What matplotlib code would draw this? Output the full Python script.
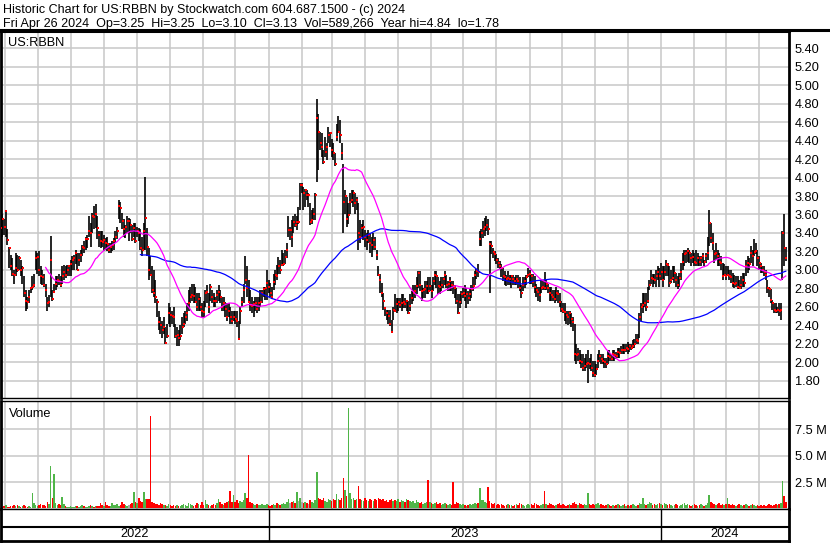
import matplotlib
matplotlib.use('Agg')
import matplotlib.pyplot as plt
import matplotlib.dates as mdates
from matplotlib.lines import Line2D
import numpy as np
import pandas as pd

plt.rcParams['font.family'] = ['Liberation Sans', 'DejaVu Sans']

# daily bars, US:RBBN, 2022-04-27 .. 2024-04-26
high = [
    3.56, 3.60, 3.55, 3.65, 3.44, 3.25, 3.16, 3.13, 3.00, 3.18,
    3.16, 3.15, 3.11, 3.04, 2.93, 2.78, 2.71, 2.78, 2.82, 2.93,
    2.96, 3.20, 3.18, 3.20, 3.04, 3.00, 2.96, 2.85, 2.71, 2.73,
    3.37, 2.78, 2.85, 2.93, 2.93, 2.96, 2.93, 3.04, 3.05, 3.04,
    3.05, 3.05, 3.11, 3.15, 3.16, 3.22, 3.18, 3.18, 3.22, 3.27,
    3.31, 3.36, 3.38, 3.58, 3.51, 3.62, 3.69, 3.71, 3.58, 3.42,
    3.42, 3.42, 3.38, 3.35, 3.36, 3.29, 3.29, 3.31, 3.35, 3.42,
    3.47, 3.76, 3.73, 3.62, 3.55, 3.49, 3.58,
    # 2022 autumn
    3.56, 3.55, 3.49, 3.51, 3.51, 3.47, 3.45, 3.44, 3.36, 3.51,
    4.01, 3.45, 3.24, 3.15, 3.04, 3.00, 2.89, 2.69, 2.56, 2.49,
    2.45, 2.49, 2.38, 2.42, 2.64, 2.60, 2.56, 2.60, 2.42, 2.38,
    2.35, 2.40, 2.49, 2.53, 2.56, 2.64, 2.78, 2.82, 2.85, 2.85,
    2.82, 2.75, 2.75, 2.71, 2.64, 2.67, 2.78, 2.84, 2.75, 2.85,
    2.78, 2.75, 2.71, 2.78, 2.84, 2.78, 2.71, 2.71, 2.65, 2.64,
    2.64, 2.60, 2.56, 2.56, 2.56, 2.56, 2.45, 2.60, 2.71, 2.85,
    3.15, 3.04, 2.89, 2.78, 2.71, 2.67, 2.71, 2.71, 2.71, 2.78,
    2.78, 2.82,
    # 2023 first half
    2.82, 3.00, 2.89, 2.86, 2.82, 2.96, 3.00, 3.05, 3.14, 3.11,
    3.22, 3.18, 3.22, 3.29, 3.58, 3.47, 3.54, 3.58, 3.61, 3.58,
    3.68, 3.94, 3.94, 3.90, 3.88, 3.86, 3.83, 3.72, 3.65, 3.67,
    3.83, 4.85, 4.69, 4.49, 4.48, 4.30, 4.44, 4.37, 4.55, 4.49,
    4.42, 4.37, 4.26, 4.58, 4.66, 4.62, 4.37, 4.15, 3.86, 3.79,
    3.72, 3.83, 3.86, 3.86, 3.83, 3.79, 3.72, 3.54, 3.50, 3.54,
    3.43, 3.40, 3.43, 3.40, 3.36, 3.40, 3.36, 3.22, 3.04, 2.96,
    2.86, 2.75, 2.60, 2.57, 2.57, 2.57, 2.46, 2.60,
    # 2023 summer
    2.74, 2.70, 2.70, 2.70, 2.74, 2.74, 2.70, 2.66, 2.66, 2.74,
    2.77, 2.84, 2.84, 2.92, 2.99, 2.99, 2.84, 2.81, 2.88, 2.88,
    2.92, 2.92, 2.84, 2.92, 2.99, 2.99, 2.92, 2.88, 2.92, 2.92,
    2.99, 2.95, 2.88, 2.92, 2.88, 2.88, 2.84, 2.81, 2.74, 2.74,
    2.77, 2.81, 2.84, 2.81, 2.77, 2.81, 2.84, 2.92, 2.99, 3.01,
    3.06, 3.42, 3.44, 3.53, 3.56, 3.58, 3.55, 3.31, 3.31, 3.24,
    3.20, 3.17, 3.13, 3.10, 3.06, 3.02, 2.99, 2.95, 2.99, 2.95,
    2.95, 2.95, 2.92, 2.95, 2.95, 2.92, 2.84, 2.92, 2.92, 2.95,
    3.02,
    # 2023 autumn
    3.00, 2.96, 2.96, 2.93, 2.85, 2.82, 2.82, 2.89, 2.89, 2.98,
    2.89, 2.85, 2.82, 2.82, 2.78, 2.78, 2.82, 2.78, 2.75, 2.67,
    2.64, 2.64, 2.56, 2.56, 2.56, 2.53, 2.49, 2.42, 2.20, 2.16,
    2.13, 2.09, 2.09, 2.05, 2.09, 2.13, 2.05, 2.09, 2.02, 2.02,
    1.98, 2.09, 2.14, 2.09, 2.09, 2.05, 2.05, 2.13, 2.13, 2.09,
    2.13, 2.13, 2.11, 2.16, 2.16, 2.18, 2.20, 2.20, 2.20, 2.22,
    2.20, 2.20, 2.24, 2.25, 2.31, 2.31, 2.53, 2.64, 2.75, 2.75,
    2.75, 2.82, 2.89, 3.00, 2.96, 2.96, 3.00, 3.04, 3.02,
    # 2024
    3.08, 3.04, 3.04, 3.11, 3.08, 3.04, 3.00, 3.04, 3.04, 2.97,
    2.93, 2.97, 3.08, 3.18, 3.22, 3.22, 3.24, 3.22, 3.18, 3.22,
    3.18, 3.22, 3.18, 3.15, 3.15, 3.18, 3.11, 3.18, 3.36, 3.65,
    3.51, 3.40, 3.22, 3.29, 3.22, 3.18, 3.15, 3.08, 3.06, 3.04,
    3.04, 3.00, 3.00, 2.97, 2.95, 2.93, 2.93, 2.89, 2.93, 2.97,
    2.97, 3.11, 3.15, 3.13, 3.26, 3.22, 3.33, 3.29, 3.22, 3.15,
    3.08, 3.04, 3.04, 3.00, 2.89, 2.82, 2.79, 2.68, 2.64, 2.64,
    2.60, 2.64, 2.64, 3.42, 3.60, 3.25,
]

low = [
    3.38, 3.36, 3.38, 3.36, 3.27, 3.02, 3.00, 2.93, 2.85, 2.93,
    2.98, 3.00, 2.93, 2.85, 2.71, 2.56, 2.58, 2.64, 2.75, 2.78,
    2.82, 3.00, 2.96, 2.93, 2.85, 2.84, 2.82, 2.71, 2.56, 2.60,
    2.71, 2.67, 2.75, 2.78, 2.82, 2.84, 2.82, 2.85, 2.89, 2.91,
    2.93, 2.93, 2.93, 3.00, 3.00, 3.07, 3.00, 3.04, 3.09, 3.15,
    3.18, 3.22, 3.24, 3.36, 3.25, 3.40, 3.44, 3.45, 3.33, 3.25,
    3.24, 3.25, 3.20, 3.22, 3.20, 3.18, 3.18, 3.20, 3.22, 3.29,
    3.33, 3.55, 3.51, 3.44, 3.36, 3.35, 3.40,
    # 2022 autumn
    3.31, 3.40, 3.31, 3.36, 3.29, 3.36, 3.31, 3.22, 3.15, 3.22,
    3.22, 3.15, 2.89, 2.93, 2.75, 2.71, 2.64, 2.49, 2.35, 2.31,
    2.27, 2.31, 2.20, 2.27, 2.42, 2.38, 2.42, 2.38, 2.27, 2.18,
    2.18, 2.24, 2.31, 2.38, 2.42, 2.45, 2.56, 2.64, 2.67, 2.64,
    2.64, 2.56, 2.56, 2.56, 2.49, 2.49, 2.60, 2.64, 2.53, 2.67,
    2.64, 2.60, 2.60, 2.64, 2.67, 2.64, 2.56, 2.56, 2.49, 2.45,
    2.49, 2.42, 2.42, 2.45, 2.42, 2.38, 2.24, 2.42, 2.60, 2.64,
    2.85, 2.71, 2.64, 2.56, 2.53, 2.49, 2.56, 2.53, 2.56, 2.60,
    2.64, 2.71,
    # 2023 first half
    2.68, 2.68, 2.75, 2.71, 2.69, 2.78, 2.84, 2.89, 2.96, 2.96,
    3.04, 3.04, 3.07, 3.13, 3.36, 3.32, 3.25, 3.40, 3.47, 3.43,
    3.50, 3.65, 3.83, 3.65, 3.68, 3.76, 3.68, 3.49, 3.50, 3.54,
    3.54, 3.95, 4.08, 4.30, 4.22, 4.15, 4.22, 4.19, 4.37, 4.33,
    4.22, 4.19, 4.12, 4.40, 4.48, 4.37, 4.19, 3.40, 3.61, 3.47,
    3.50, 3.61, 3.72, 3.68, 3.61, 3.65, 3.22, 3.29, 3.36, 3.32,
    3.25, 3.22, 3.29, 3.18, 3.14, 3.22, 3.22, 3.11, 2.93, 2.75,
    2.71, 2.57, 2.50, 2.46, 2.42, 2.39, 2.32, 2.46,
    # 2023 summer
    2.56, 2.54, 2.56, 2.59, 2.56, 2.59, 2.59, 2.56, 2.52, 2.56,
    2.63, 2.66, 2.70, 2.74, 2.81, 2.77, 2.66, 2.70, 2.70, 2.74,
    2.74, 2.77, 2.70, 2.77, 2.84, 2.81, 2.74, 2.74, 2.77, 2.81,
    2.84, 2.81, 2.77, 2.77, 2.77, 2.74, 2.70, 2.63, 2.52, 2.59,
    2.63, 2.70, 2.66, 2.59, 2.63, 2.66, 2.70, 2.77, 2.84, 2.90,
    2.92, 3.26, 3.26, 3.35, 3.37, 3.42, 3.38, 2.75, 3.17, 3.13,
    3.10, 3.06, 3.02, 3.01, 2.92, 2.88, 2.84, 2.83, 2.84, 2.84,
    2.81, 2.84, 2.84, 2.84, 2.81, 2.77, 2.70, 2.77, 2.81, 2.84,
    2.92,
    # 2023 autumn
    2.85, 2.85, 2.82, 2.75, 2.71, 2.67, 2.65, 2.75, 2.78, 2.78,
    2.78, 2.75, 2.67, 2.67, 2.67, 2.64, 2.67, 2.64, 2.60, 2.55,
    2.53, 2.45, 2.42, 2.40, 2.42, 2.38, 2.34, 2.02, 1.98, 2.02,
    1.98, 1.94, 1.91, 1.91, 1.94, 1.78, 1.93, 1.91, 1.84, 1.84,
    1.87, 1.94, 2.00, 1.98, 1.98, 1.94, 1.94, 1.98, 2.02, 2.02,
    2.02, 2.02, 2.04, 2.05, 2.05, 2.09, 2.09, 2.09, 2.11, 2.09,
    2.11, 2.13, 2.16, 2.16, 2.20, 2.20, 2.27, 2.45, 2.53, 2.60,
    2.56, 2.64, 2.78, 2.85, 2.82, 2.85, 2.82, 2.89, 2.82,
    # 2024
    2.89, 2.82, 2.89, 2.93, 2.93, 2.82, 2.86, 2.89, 2.86, 2.82,
    2.79, 2.82, 2.89, 3.00, 3.04, 3.08, 3.09, 3.08, 3.04, 3.08,
    3.04, 3.04, 3.04, 3.04, 3.04, 3.08, 3.04, 3.08, 3.11, 3.26,
    3.29, 3.22, 3.08, 3.11, 3.04, 3.04, 3.00, 2.89, 2.93, 2.89,
    2.93, 2.89, 2.86, 2.82, 2.80, 2.82, 2.79, 2.79, 2.79, 2.82,
    2.82, 2.93, 2.97, 3.00, 3.08, 3.04, 3.15, 3.17, 3.04, 3.00,
    2.97, 2.97, 2.93, 2.89, 2.75, 2.71, 2.64, 2.57, 2.53, 2.53,
    2.53, 2.50, 2.46, 2.89, 3.04, 3.10,
]

close = [
    3.45, 3.55, 3.47, 3.64, 3.32, 3.24, 3.04, 2.96, 2.95, 3.02,
    3.00, 3.13, 3.00, 3.02, 2.75, 2.67, 2.65, 2.71, 2.80, 2.82,
    2.84, 3.13, 3.14, 3.00, 2.93, 2.92, 2.84, 2.78, 2.64, 2.65,
    3.11, 2.69, 2.76, 2.85, 2.89, 2.88, 2.84, 2.93, 2.98, 2.95,
    3.00, 3.04, 3.07, 3.11, 3.13, 3.18, 3.00, 3.11, 3.16, 3.25,
    3.24, 3.33, 3.34, 3.42, 3.40, 3.58, 3.57, 3.60, 3.45, 3.38,
    3.31, 3.30, 3.32, 3.29, 3.28, 3.22, 3.25, 3.27, 3.31, 3.36,
    3.42, 3.69, 3.67, 3.53, 3.44, 3.47, 3.53,
    # 2022 autumn
    3.53, 3.49, 3.33, 3.45, 3.31, 3.42, 3.40, 3.24, 3.22, 3.42,
    3.56, 3.25, 3.00, 2.95, 2.78, 2.75, 2.71, 2.65, 2.44, 2.40,
    2.35, 2.38, 2.21, 2.29, 2.53, 2.51, 2.50, 2.49, 2.29, 2.30,
    2.27, 2.29, 2.38, 2.42, 2.49, 2.53, 2.64, 2.71, 2.73, 2.72,
    2.65, 2.60, 2.69, 2.60, 2.56, 2.55, 2.75, 2.76, 2.60, 2.82,
    2.71, 2.67, 2.66, 2.73, 2.76, 2.71, 2.60, 2.64, 2.58, 2.49,
    2.56, 2.49, 2.45, 2.49, 2.47, 2.45, 2.25, 2.56, 2.65, 2.78,
    2.89, 2.80, 2.65, 2.62, 2.61, 2.63, 2.64, 2.58, 2.64, 2.65,
    2.75, 2.79,
    # 2023 first half
    2.80, 2.86, 2.82, 2.75, 2.71, 2.87, 2.95, 2.93, 3.04, 3.00,
    3.05, 3.07, 3.14, 3.22, 3.43, 3.43, 3.36, 3.52, 3.49, 3.52,
    3.52, 3.92, 3.92, 3.83, 3.86, 3.81, 3.81, 3.52, 3.54, 3.61,
    3.81, 4.64, 4.49, 4.37, 4.33, 4.17, 4.28, 4.33, 4.46, 4.48,
    4.30, 4.26, 4.15, 4.44, 4.49, 4.46, 4.26, 3.74, 3.80, 3.55,
    3.59, 3.74, 3.76, 3.83, 3.72, 3.76, 3.40, 3.36, 3.45, 3.47,
    3.36, 3.32, 3.38, 3.29, 3.27, 3.32, 3.25, 3.16, 2.95, 2.89,
    2.75, 2.66, 2.59, 2.53, 2.50, 2.42, 2.33, 2.57,
    # 2023 summer
    2.56, 2.63, 2.65, 2.62, 2.64, 2.65, 2.63, 2.66, 2.54, 2.61,
    2.70, 2.75, 2.77, 2.83, 2.97, 2.84, 2.77, 2.78, 2.79, 2.83,
    2.77, 2.83, 2.77, 2.88, 2.95, 2.93, 2.83, 2.82, 2.84, 2.90,
    2.95, 2.84, 2.85, 2.88, 2.84, 2.83, 2.81, 2.66, 2.54, 2.65,
    2.74, 2.75, 2.72, 2.74, 2.70, 2.74, 2.79, 2.83, 2.95, 2.99,
    2.98, 3.33, 3.40, 3.44, 3.46, 3.49, 3.44, 3.28, 3.26, 3.19,
    3.17, 3.11, 3.08, 3.04, 3.02, 2.93, 2.92, 2.90, 2.91, 2.90,
    2.93, 2.90, 2.88, 2.90, 2.88, 2.81, 2.75, 2.84, 2.88, 2.92,
    2.95,
    # 2023 autumn
    2.96, 2.93, 2.87, 2.82, 2.78, 2.76, 2.73, 2.80, 2.82, 2.80,
    2.85, 2.80, 2.75, 2.73, 2.71, 2.69, 2.75, 2.74, 2.65, 2.58,
    2.56, 2.55, 2.51, 2.49, 2.53, 2.47, 2.44, 2.09, 2.08, 2.09,
    2.02, 2.01, 1.94, 1.96, 1.98, 1.99, 1.98, 1.94, 1.89, 1.87,
    1.93, 2.02, 2.07, 2.04, 2.02, 2.00, 1.98, 2.07, 2.06, 2.04,
    2.09, 2.08, 2.07, 2.11, 2.10, 2.13, 2.14, 2.13, 2.16, 2.15,
    2.18, 2.16, 2.18, 2.20, 2.24, 2.23, 2.49, 2.60, 2.62, 2.64,
    2.60, 2.67, 2.84, 2.91, 2.90, 2.89, 2.93, 2.98, 2.93,
    # 2024
    2.98, 2.89, 2.98, 3.06, 3.05, 2.86, 2.89, 2.91, 2.97, 2.89,
    2.84, 2.91, 2.98, 3.09, 3.17, 3.18, 3.20, 3.18, 3.13, 3.14,
    3.09, 3.08, 3.13, 3.09, 3.13, 3.15, 3.09, 3.15, 3.18, 3.51,
    3.35, 3.29, 3.17, 3.18, 3.15, 3.09, 3.08, 2.93, 2.95, 2.94,
    2.95, 2.93, 2.92, 2.86, 2.85, 2.86, 2.82, 2.80, 2.84, 2.89,
    2.86, 3.04, 3.08, 3.06, 3.18, 3.15, 3.19, 3.20, 3.13, 3.08,
    3.04, 3.00, 2.98, 2.95, 2.80, 2.79, 2.68, 2.64, 2.57, 2.56,
    2.57, 2.56, 2.57, 3.40, 3.24, 3.13,
]

# volume in millions of shares
volume = [
    0.15, 0.10, 0.20, 0.30, 0.15, 0.10, 0.25, 0.20, 0.30, 0.20,
    0.35, 0.20, 0.15, 0.25, 0.30, 0.20, 0.10, 0.20, 0.15, 1.45,
    0.50, 0.30, 0.20, 0.30, 0.40, 0.30, 0.30, 0.20, 0.60, 0.40,
    4.00, 1.00, 3.30, 0.50, 0.30, 0.40, 0.30, 1.10, 0.40, 0.20,
    0.15, 0.10, 0.20, 0.15, 0.10, 0.20, 0.25, 0.15, 0.20, 0.30,
    0.20, 0.15, 0.10, 0.20, 0.30, 0.20, 0.15, 0.25, 0.20, 0.20,
    0.50, 0.30, 0.20, 0.60, 0.30, 0.25, 0.20, 0.50, 0.30, 0.35,
    0.40, 0.20, 0.30, 0.60, 0.40, 0.30, 0.20,
    # 2022 autumn
    0.30, 0.40, 0.50, 1.60, 0.60, 0.50, 1.00, 0.70, 0.60, 1.60,
    0.90, 0.90, 0.90, 8.75, 0.60, 0.50, 0.40, 0.40, 0.30, 0.50,
    0.40, 0.30, 0.30, 0.20, 0.40, 0.30, 0.20, 0.30, 0.20, 0.30,
    0.20, 0.20, 0.30, 0.40, 0.30, 0.20, 0.50, 0.40, 0.30, 0.20,
    0.30, 0.50, 0.40, 0.30, 0.60, 0.30, 0.80, 0.40, 0.30, 0.20,
    0.30, 0.40, 0.30, 0.50, 0.90, 0.60, 0.40, 0.30, 0.50, 0.60,
    0.70, 1.70, 0.60, 1.30, 0.60, 0.80, 0.50, 0.70, 0.60, 0.80,
    1.50, 1.00, 5.10, 0.60, 0.50, 0.40, 0.30, 0.40, 0.30, 0.30,
    0.40, 0.30,
    # 2023 first half
    0.30, 0.40, 0.30, 0.20, 0.30, 0.40, 0.30, 0.50, 0.40, 0.30,
    0.40, 0.50, 0.40, 0.60, 0.90, 0.50, 0.60, 0.70, 0.50, 1.60,
    0.70, 1.00, 0.60, 0.50, 0.60, 0.50, 0.40, 0.80, 0.60, 0.50,
    0.80, 3.50, 1.00, 0.90, 0.80, 1.00, 0.70, 0.60, 0.90, 0.80,
    0.70, 0.90, 0.80, 1.40, 0.90, 0.80, 1.00, 2.90, 1.80, 1.20,
    9.50, 1.50, 0.90, 1.00, 0.80, 0.90, 2.10, 0.90, 0.80, 0.70,
    1.00, 0.80, 0.70, 0.90, 0.80, 0.70, 0.90, 0.80, 1.00, 0.90,
    0.80, 0.90, 0.70, 0.80, 0.60, 0.80, 0.90, 0.70,
    # 2023 summer
    0.80, 0.70, 0.90, 0.60, 0.80, 0.70, 0.60, 0.90, 0.80, 0.70,
    0.60, 0.70, 0.50, 0.80, 0.60, 0.50, 0.60, 0.40, 0.50, 0.60,
    2.70, 0.60, 0.50, 0.40, 0.50, 0.60, 0.40, 0.50, 0.30, 0.40,
    0.50, 0.40, 0.30, 0.40, 0.30, 2.50, 0.40, 0.60, 0.50, 0.40,
    0.30, 0.40, 0.30, 0.20, 0.30, 0.40, 0.30, 0.40, 0.50, 0.40,
    0.50, 1.90, 0.80, 0.80, 0.60, 0.50, 2.00, 0.70, 0.50, 0.40,
    0.50, 0.30, 0.40, 0.30, 0.40, 0.30, 0.20, 0.30, 0.40, 0.30,
    0.30, 0.20, 0.30, 0.40, 0.30, 0.50, 0.40, 0.30, 0.20, 0.30,
    0.40,
    # 2023 autumn
    0.30, 0.40, 0.30, 0.50, 0.40, 0.30, 0.20, 0.30, 0.40, 1.70,
    0.40, 0.30, 0.50, 0.40, 0.30, 0.20, 0.30, 0.40, 0.50, 0.30,
    0.40, 0.30, 0.20, 0.30, 0.40, 0.30, 0.50, 0.60, 0.40, 0.30,
    0.50, 0.40, 0.30, 0.40, 0.30, 1.50, 0.40, 0.30, 0.40, 0.30,
    0.40, 0.50, 0.30, 0.40, 0.30, 0.20, 0.30, 0.40, 0.30, 0.20,
    0.30, 0.20, 0.30, 0.40, 0.30, 0.20, 0.30, 0.40, 0.20, 0.30,
    0.20, 0.30, 0.40, 0.30, 0.20, 0.30, 0.50, 0.40, 1.00, 0.40,
    0.30, 0.40, 0.60, 0.50, 0.30, 0.40, 0.30, 0.40, 0.50,
    # 2024
    0.40, 0.30, 0.50, 0.40, 0.30, 0.40, 0.30, 0.20, 0.30, 0.40,
    0.30, 0.20, 0.30, 0.40, 0.50, 0.30, 0.40, 0.30, 0.20, 0.30,
    0.40, 0.30, 0.20, 0.30, 0.40, 0.30, 0.20, 0.30, 0.50, 1.30,
    0.60, 0.50, 0.40, 0.30, 0.40, 0.50, 0.30, 0.40, 0.30, 0.40,
    1.00, 0.40, 0.30, 0.40, 0.30, 0.20, 0.30, 0.40, 0.30, 0.20,
    0.30, 0.40, 0.30, 0.20, 0.30, 0.40, 0.30, 0.20, 0.30, 0.20,
    0.30, 0.20, 0.30, 0.20, 0.30, 0.40, 0.30, 0.20, 0.30, 0.40,
    0.30, 0.40, 0.50, 2.60, 1.20, 0.59,
]

price_ticks = [1.80, 2.00, 2.20, 2.40, 2.60, 2.80, 3.00, 3.20, 3.40, 3.60,
               3.80, 4.00, 4.20, 4.40, 4.60, 4.80, 5.00, 5.20, 5.40]
vol_ticks = [2.5, 5.0, 7.5]
years = [2022, 2023, 2024]

header1 = 'Historic Chart for US:RBBN by Stockwatch.com 604.687.1500 - (c) 2024'
header2 = ('Fri Apr 26 2024  Op=3.25  Hi=3.25  Lo=3.10  Cl=3.13  '
           'Vol=589,266  Year hi=4.84  lo=1.78')

GREEN = '#4fb548'
RED = '#ff0000'
GREY = '#a8a8a8'
GRIDC = '#c8c8c8'

W, H = 830, 543


def box(x0, y0, x1, y1):
    # pixel box (top-left origin) -> figure fraction rect
    return [x0 / W, 1 - y1 / H, (x1 - x0) / W, (y1 - y0) / H]


dates = pd.date_range('2022-04-27', '2024-04-26', periods=len(close))
x = mdates.date2num(dates.to_pydatetime())
xlim = (mdates.date2num(pd.Timestamp('2022-04-27 06:00')),
        mdates.date2num(pd.Timestamp('2024-04-29')))

c = pd.Series(close)
ma_fast = c.rolling(28).mean()
ma_slow = c.rolling(85).mean()
chg = np.round(np.diff(np.array(close), prepend=close[0]), 3)
vcol = np.where(chg > 0, GREEN, np.where(chg < 0, RED, GREY))

fig = plt.figure(figsize=(W / 100, H / 100), dpi=100)
fig.patch.set_facecolor('white')

fig.text(3 / W, 1 - 13 / H, header1, fontsize=9.0, va='baseline')
fig.text(3 / W, 1 - 27 / H, header2, fontsize=9.0, va='baseline')

# price panel
ax = fig.add_axes(box(1, 31, 789, 398))
ax.set_xlim(*xlim)
ax.set_ylim(1.616, 5.584)
ax.xaxis.set_major_locator(mdates.MonthLocator())
ax.set_yticks(price_ticks)
ax.set_yticklabels([f'{v:.2f}' for v in price_ticks])
ax.yaxis.tick_right()
ax.tick_params(axis='y', length=0, pad=4, labelsize=9.2)
ax.tick_params(axis='x', length=0, labelbottom=False)
ax.grid(True, color=GRIDC, lw=1.1, zorder=0)
ax.set_axisbelow(True)
ax.vlines(x, low, high, color='black', lw=1.2, zorder=2)
ax.plot(x + 0.45, close, 's', ms=1.7, mew=0, color=RED, zorder=3)
ax.plot(x, ma_slow, color='#0000ff', lw=0.9, zorder=4)
ax.plot(x, ma_fast, color='#ff00ff', lw=0.9, zorder=4)
ax.text(7 / 788, 1 - 15 / 367, 'US:RBBN', transform=ax.transAxes,
        fontsize=9.2, va='baseline')

# volume panel
axv = fig.add_axes(box(1, 401, 789, 509))
axv.set_xlim(*xlim)
axv.set_ylim(-0.05, 10.2)
axv.xaxis.set_major_locator(mdates.MonthLocator())
axv.set_yticks(vol_ticks)
axv.set_yticklabels([f'{v:.1f} M' for v in vol_ticks])
axv.yaxis.tick_right()
axv.tick_params(axis='y', length=0, pad=4, labelsize=9.2)
axv.tick_params(axis='x', length=0, labelbottom=False)
axv.grid(True, color=GRIDC, lw=1.1, zorder=0)
axv.set_axisbelow(True)
axv.bar(x, volume, width=1.45, color=vcol, lw=0, zorder=2)
axv.text(8 / 788, 1 - 16 / 108, 'Volume', transform=axv.transAxes,
         fontsize=9.2, va='baseline')

# date band
axd = fig.add_axes(box(1, 509, 789, 541))
axd.set_xlim(*xlim)
axd.set_ylim(0, 32)
axd.set_xticks([])
axd.set_yticks([])
axd.axhline(14, color='black', lw=1.5)
edges = [xlim[0]] + [mdates.date2num(pd.Timestamp(f'{y}-01-01')) for y in years[1:]] + [xlim[1]]
for e in edges[1:-1]:
    axd.axvline(e, color='black', lw=1.0)
for y, a, b in zip(years, edges[:-1], edges[1:]):
    axd.text((a + b) / 2, 7, str(y), ha='center', va='center', fontsize=9.2)

for a in (ax, axv, axd):
    for s in a.spines.values():
        s.set_color('black')
        s.set_linewidth(1.0)
    a.spines['left'].set_linewidth(2.0)
    a.spines['right'].set_linewidth(2.0)
    a.set_facecolor('white')
ax.spines['top'].set_linewidth(2.2)
axd.spines['bottom'].set_linewidth(2.0)

fig.add_artist(Line2D([0, 1], [1 - 30 / H, 1 - 30 / H], color='black', lw=2.2,
                      transform=fig.transFigure))

fig.savefig('out.png', dpi=100)
